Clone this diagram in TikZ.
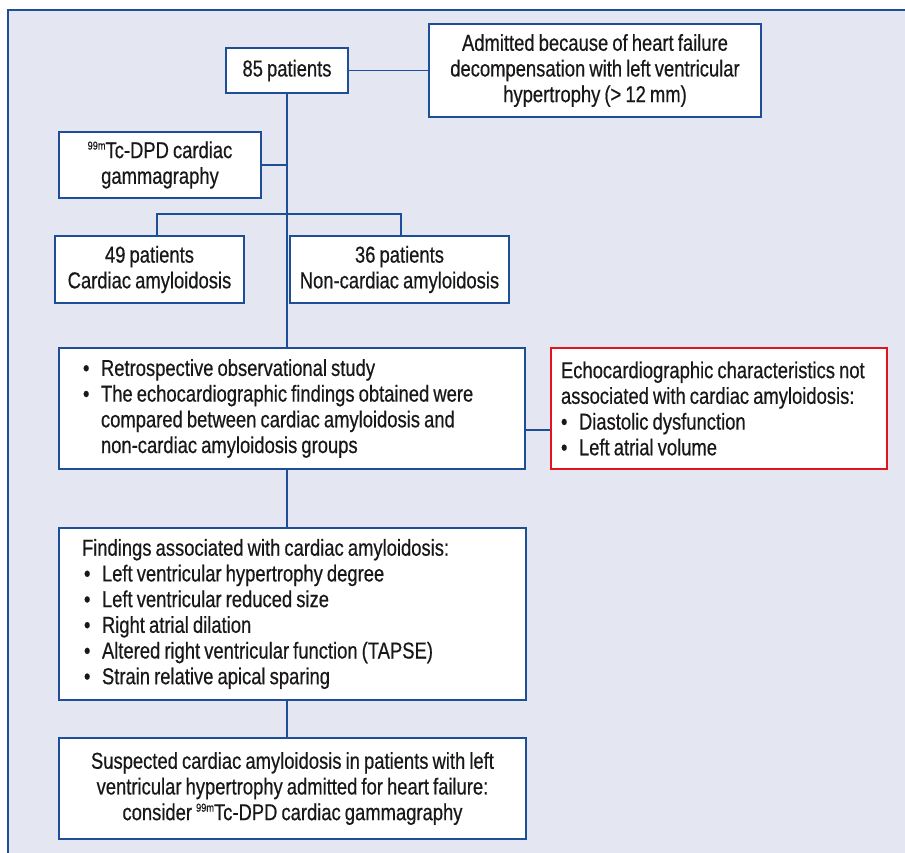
\documentclass[tikz,border=0pt]{standalone}
\usepackage{fontspec}
\setmainfont{Liberation Sans}[FakeStretch=0.8,WordSpace=0.8,FakeBold=0.5]
\definecolor{panelfill}{HTML}{E4E6F2}
\definecolor{lineblue}{HTML}{1F4E99}
\definecolor{boxred}{HTML}{E2131F}
\definecolor{txt}{HTML}{1A1718}
\newcommand{\supnn}{\raisebox{8.5pt}{\fontsize{11.5}{11.5}\selectfont 99m}}
\newcommand{\bul}{\makebox[18pt][l]{\textbullet}}
\newcommand{\ind}{\hspace*{18pt}}
\newcommand{\nsp}{\spaceskip=0pt\xspaceskip=0pt\relax}
\begin{document}
\begin{tikzpicture}[x=1pt,y=-1pt,
  every node/.style={text=txt,font=\fontsize{23}{25.7}\selectfont},
  box/.style={draw=lineblue,line width=1.8pt,fill=white,rectangle,inner sep=0pt,align=center},
  redbox/.style={draw=boxred,line width=1.6pt,fill=white,rectangle,inner sep=0pt},
  conn/.style={draw=lineblue,line width=1.8pt}]
\useasboundingbox (0,0) rectangle (905,852);
\clip (0,0) rectangle (905,852);
\fill[white] (0,0) rectangle (905,852);
\draw[draw=lineblue,fill=panelfill,line width=1.8pt] (8,10) rectangle (930,880);

\node[box,minimum width=122pt,minimum height=45pt] (p85) at (287,70.5) {85 patients};
\node[box,minimum width=332pt,minimum height=93pt] (adm) at (595,70.5)
  {Admitted because of heart failure\\decompensation with left ventricular\\hypertrophy (> 12 mm)};
\node[box,minimum width=202pt,minimum height=66pt] (tc) at (160,165)
  {\supnn Tc-DPD cardiac\\gammagraphy};
\node[box,minimum width=189pt,minimum height=67pt] (c49) at (149.5,269.5)
  {49 patients\\Cardiac amyloidosis};
\node[box,minimum width=219pt,minimum height=67pt] (c36) at (399.5,269.5)
  {36 patients\\Non-cardiac amyloidosis};
\node[box,minimum width=466pt,minimum height=121pt,text width=418pt,align=left] (study) at (292,408.5)
  {\nsp\bul Retrospective observational study\\
   \bul The echocardiographic findings obtained were\\
   \ind compared between cardiac amyloidosis and\\
   \ind non-cardiac amyloidosis groups};
\node[redbox,minimum width=336pt,minimum height=121pt,text width=316pt,align=left] (red) at (719,408.5)
  {\nsp Echocardiographic characteristics not\\
   associated with cardiac amyloidosis:\\
   \bul Diastolic dysfunction\\
   \bul Left atrial volume};
\node[box,minimum width=467pt,minimum height=172pt,text width=421pt,align=left] (find) at (292.5,614)
  {\nsp Findings associated with cardiac amyloidosis:\\
   \hspace*{2pt}\bul Left ventricular hypertrophy degree\\
   \hspace*{2pt}\bul Left ventricular reduced size\\
   \hspace*{2pt}\bul Right atrial dilation\\
   \hspace*{2pt}\bul Altered right ventricular function (TAPSE)\\
   \hspace*{2pt}\bul Strain relative apical sparing};
\node[box,minimum width=467pt,minimum height=101pt] (bot) at (292.5,788.5)
  {Suspected cardiac amyloidosis in patients with left\\
   ventricular hypertrophy admitted for heart failure:\\
   consider \supnn Tc-DPD cardiac gammagraphy};

\coordinate (b1) at (157,214);
\coordinate (b2) at (401,214);
\coordinate (r1) at (540,430);

\path[conn] (p85.east) -- (adm.west);
\path[conn] (p85.south) -- (p85.south |- study.north);
\path[conn] (tc.east) -- (tc.east -| p85.south);
\path[conn] (b1 |- c49.north) -- (b1) -- (b2) -- (b2 |- c36.north);
\path[conn] (study.east |- r1) -- (red.west |- r1);
\path[conn] (p85.south |- study.south) -- (p85.south |- find.north);
\path[conn] (p85.south |- find.south) -- (p85.south |- bot.north);
\end{tikzpicture}
\end{document}
